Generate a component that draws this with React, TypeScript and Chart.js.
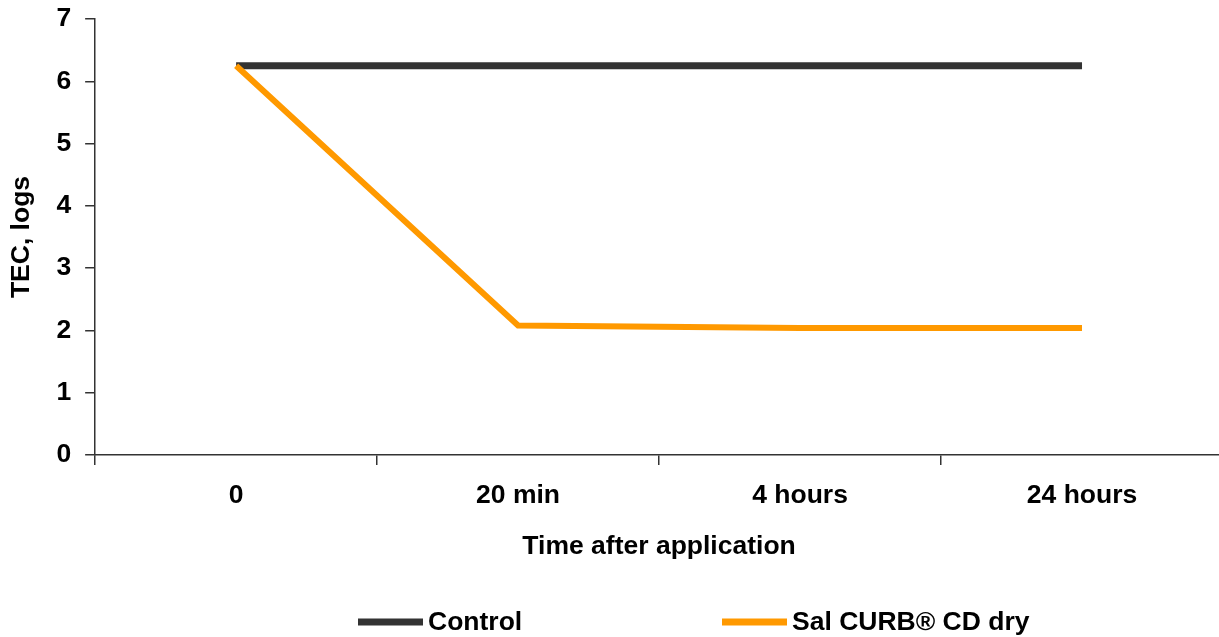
import React, { useEffect, useRef } from "react";
import { Chart, registerables } from "chart.js";

Chart.register(...registerables);

const categories = ["0", "20 min", "4 hours", "24 hours"];
const controlValues = [6.25, 6.25, 6.25, 6.25];
const salCurbValues = [6.25, 2.08, 2.04, 2.04];
const seriesLabels = ["Control", "Sal CURB\u00AE CD dry"];
const yMin = 0;
const yMax = 7;
const yStep = 1;
const xTitle = "Time after application";
const yTitle = "TEC, logs";

const FONT = "'Liberation Sans', Arial, sans-serif";
const FONT_SIZE = 26.5;
const AXIS_COLOR = "#333333";

const legendLayout = { y: 622, starts: [358, 722], sampleLen: 65, gap: 5, width: 7 };

const legendPlugin = {
  id: "customLegend",
  afterDraw(chart: any) {
    const ctx = chart.ctx;
    ctx.save();
    chart.data.datasets.forEach((ds: any, i: number) => {
      const x0 = legendLayout.starts[i];
      const y = legendLayout.y;
      ctx.beginPath();
      ctx.strokeStyle = ds.borderColor;
      ctx.lineWidth = legendLayout.width;
      ctx.lineCap = "butt";
      ctx.moveTo(x0, y);
      ctx.lineTo(x0 + legendLayout.sampleLen, y);
      ctx.stroke();
      ctx.fillStyle = "#000";
      ctx.font = `bold ${FONT_SIZE}px ${FONT}`;
      ctx.textBaseline = "middle";
      ctx.textAlign = "left";
      ctx.fillText(ds.label, x0 + legendLayout.sampleLen + legendLayout.gap, y + 1);
    });
    ctx.restore();
  },
};

export default function App() {
  const ref = useRef<HTMLCanvasElement>(null);
  useEffect(() => {
    if (!ref.current) return;
    const tickFont = { family: FONT, weight: "bold" as const, size: FONT_SIZE };
    const chart = new Chart(ref.current, {
      type: "line",
      data: {
        labels: categories,
        datasets: [
          {
            label: seriesLabels[0],
            data: controlValues,
            borderColor: "#333333",
            backgroundColor: "#333333",
            borderWidth: 7,
            pointRadius: 0,
            tension: 0,
            order: 1,
          },
          {
            label: seriesLabels[1],
            data: salCurbValues,
            borderColor: "#FF9900",
            backgroundColor: "#FF9900",
            borderWidth: 6,
            pointRadius: 0,
            tension: 0,
            borderJoinStyle: "miter",
            order: 0,
          },
        ],
      },
      options: {
        animation: false,
        responsive: true,
        maintainAspectRatio: false,
        layout: { padding: { top: 19, right: 1, left: 0, bottom: 53.4 } },
        plugins: { legend: { display: false }, tooltip: { enabled: false } },
        scales: {
          x: {
            type: "category",
            offset: true,
            grid: {
              offset: true,
              drawOnChartArea: false,
              drawTicks: true,
              tickLength: 10,
              color: AXIS_COLOR,
              lineWidth: 1.5,
            },
            border: { color: AXIS_COLOR, width: 1.5 },
            ticks: { color: "#000", font: tickFont, padding: 15, maxRotation: 0 },
            title: {
              display: true,
              text: xTitle,
              color: "#000",
              font: tickFont,
              padding: { top: 4, bottom: 21 },
            },
          },
          y: {
            min: yMin,
            max: yMax,
            afterFit(scale: any) {
              scale.paddingTop = 0;
              scale.paddingBottom = 0;
            },
            grid: {
              drawOnChartArea: false,
              drawTicks: true,
              tickLength: 10,
              color: AXIS_COLOR,
              lineWidth: 1.5,
            },
            border: { color: AXIS_COLOR, width: 1.5 },
            ticks: { stepSize: yStep, color: "#000", font: tickFont, padding: 14 },
            title: {
              display: true,
              text: yTitle,
              color: "#000",
              font: tickFont,
              padding: { top: 6, bottom: 4.6 },
            },
          },
        },
      },
      plugins: [legendPlugin],
    });
    return () => chart.destroy();
  }, []);
  return (
    <div style={{ position: "fixed", left: 0, top: 0, width: 1219, height: 637, overflow: "hidden", background: "#fff" }}>
      <div style={{ position: "relative", width: 1224, height: 637 }}>
        <canvas ref={ref} />
      </div>
    </div>
  );
}
